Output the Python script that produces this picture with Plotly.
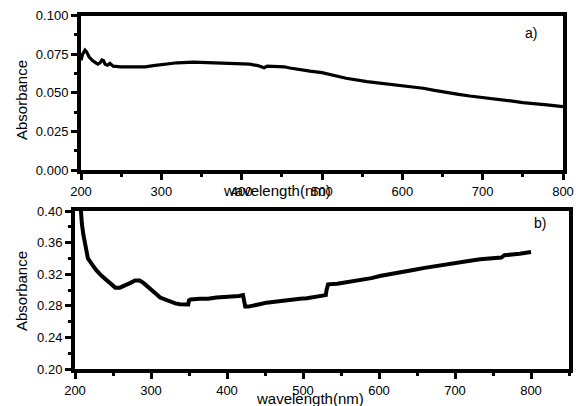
import plotly.graph_objects as go

# Panel a) data
wl_a = [200, 202, 205, 207, 210, 214, 218, 221, 224, 226, 228, 230, 233, 236, 240,
        250, 265, 280, 290, 300, 320, 340, 360, 380, 400, 410, 420, 425, 428, 432,
        437, 445, 453, 460, 468, 475, 485, 500, 515, 530, 556, 580, 601, 615, 626,
        640, 655, 670, 684, 700, 720, 735, 750, 765, 780, 800]
abs_a = [0.071, 0.075, 0.0776, 0.0765, 0.0733, 0.071, 0.0695, 0.0685, 0.0695, 0.0712,
         0.0708, 0.0685, 0.0678, 0.069, 0.0672, 0.0668, 0.0668, 0.0668, 0.0675, 0.0683,
         0.0694, 0.0698, 0.0694, 0.0692, 0.069, 0.0685, 0.0676, 0.0666, 0.0662, 0.0672,
         0.067, 0.0668, 0.0668, 0.066, 0.0652, 0.0645, 0.064, 0.063, 0.0612, 0.0594,
         0.0572, 0.0558, 0.0544, 0.0537, 0.0529, 0.0515, 0.050, 0.049, 0.0479, 0.047,
         0.0458, 0.0447, 0.0436, 0.043, 0.0422, 0.041]

# Panel b) data
wl_b = [205, 207, 209, 211, 213, 217, 222, 228, 235, 242, 248, 253, 259, 264, 268,
        273, 279, 285, 290, 294, 299, 303, 308, 312, 318, 325, 332, 338, 344, 349,
        350, 352, 364, 375, 386, 397, 408, 416, 421, 422, 424, 428, 435, 443, 452,
        463, 474, 485, 496, 505, 514, 522, 530, 531, 533, 545, 560, 579, 590, 601,
        615, 630, 645, 660, 675, 689, 705, 720, 733, 748, 761, 765, 768, 775, 785,
        795, 800]
abs_b = [0.44, 0.41, 0.384, 0.37, 0.359, 0.340, 0.333, 0.325, 0.318, 0.312, 0.306,
         0.303, 0.303, 0.305, 0.306, 0.309, 0.312, 0.312, 0.309, 0.306, 0.301, 0.2977,
         0.294, 0.2905, 0.288, 0.285, 0.283, 0.282, 0.2817, 0.2817, 0.287, 0.288,
         0.289, 0.289, 0.2905, 0.291, 0.292, 0.2925, 0.2935, 0.288, 0.279, 0.279,
         0.281, 0.282, 0.284, 0.2855, 0.287, 0.288, 0.289, 0.2895, 0.2907, 0.2915,
         0.2935, 0.300, 0.3072, 0.308, 0.310, 0.3127, 0.315, 0.3177, 0.3205, 0.3225,
         0.3253, 0.328, 0.3305, 0.3329, 0.335, 0.337, 0.3389, 0.340, 0.341, 0.344,
         0.3445, 0.345, 0.346, 0.3475, 0.348]

x_ticks = [200, 300, 400, 500, 600, 700, 800]
ya_ticks = [0.0, 0.025, 0.05, 0.075, 0.1]
yb_ticks = [0.20, 0.24, 0.28, 0.32, 0.36, 0.40]

W, H = 576, 406
FONT = "Liberation Sans, Arial, sans-serif"

def px(x):
    return x / W

def py(y):
    return 1 - y / H

fig = go.Figure()
fig.add_trace(go.Scatter(x=wl_a, y=abs_a, mode="lines",
                         line=dict(color="black", width=3.2),
                         xaxis="x", yaxis="y", showlegend=False))
fig.add_trace(go.Scatter(x=wl_b, y=abs_b, mode="lines",
                         line=dict(color="black", width=4),
                         xaxis="x2", yaxis="y2", showlegend=False))

axis_common = dict(showgrid=False, zeroline=False, showline=True, linecolor="black",
                   linewidth=4, mirror=True, ticks="outside", ticklen=6,
                   tickwidth=3, tickcolor="black", automargin=False,
                   tickfont=dict(family=FONT, size=13, color="black"))

minor_common = dict(ticks="outside", ticklen=3, tickwidth=3, tickcolor="black")

fig.update_layout(
    width=W, height=H,
    margin=dict(l=0, r=0, t=0, b=0, autoexpand=False),
    paper_bgcolor="white", plot_bgcolor="white",
    xaxis=dict(domain=[px(81), px(563)], range=[200, 800], anchor="y",
               tickvals=x_ticks,
               minor=dict(dtick=50, tick0=200, **minor_common),
               **axis_common),
    yaxis=dict(domain=[py(170), py(15.5)], range=[0, 0.1], anchor="x",
               tickvals=ya_ticks, tickformat=".3f",
               minor=dict(dtick=0.0125, tick0=0, **minor_common),
               **axis_common),
    xaxis2=dict(domain=[px(75), px(569)], range=[200, 850], anchor="y2",
                tickvals=x_ticks,
                minor=dict(dtick=50, tick0=200, **minor_common),
                **axis_common),
    yaxis2=dict(domain=[py(369), py(211)], range=[0.2, 0.4], anchor="x2",
                tickvals=yb_ticks, tickformat=".2f",
                minor=dict(dtick=0.02, tick0=0.2, **minor_common),
                **axis_common),
)

def ann(text, x, y, size, angle=0):
    fig.add_annotation(text=text, x=px(x), y=py(y), xref="paper", yref="paper",
                       showarrow=False, textangle=angle, xanchor="center",
                       yanchor="middle",
                       font=dict(family=FONT, size=size, color="black"))

ann("wavelength(nm)", 277, 190, 15)
ann("wavelength(nm)", 310, 398, 15)
ann("Absorbance", 21, 100, 15, -90)
ann("Absorbance", 21, 291, 15, -90)
ann("a)", 531, 33, 14)
ann("b)", 540, 223, 14)

fig.write_html("out.html",
               config={"displayModeBar": False, "staticPlot": True},
               post_script="document.body.style.margin='0px';"
                           "document.body.style.overflow='hidden';")
